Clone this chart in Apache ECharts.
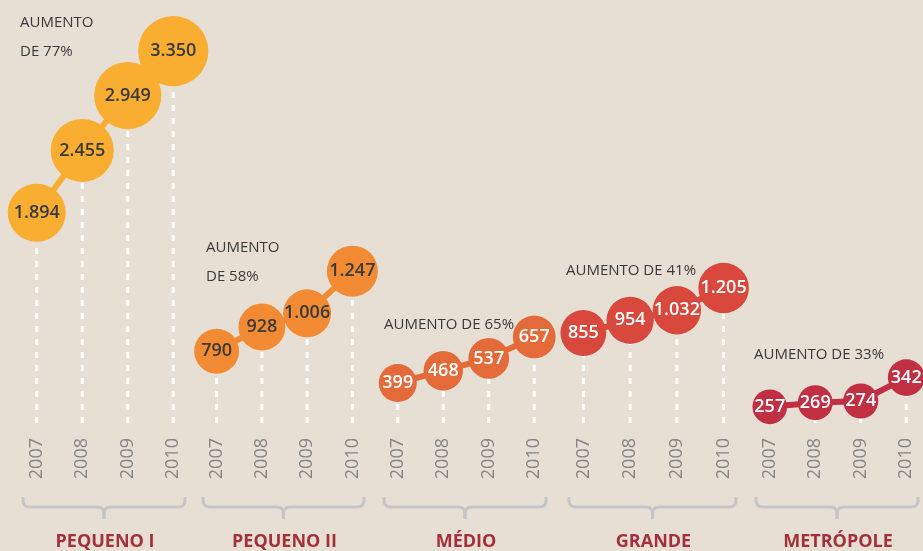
<!DOCTYPE html>
<html>
<head>
<meta charset="utf-8">
<script src="https://cdn.jsdelivr.net/npm/echarts@6/dist/echarts.min.js"></script>
<style>
  html, body { margin: 0; padding: 0; background: #e8dfd4; }
  #chart { width: 923px; height: 551px; }
</style>
</head>
<body>
<div id="chart"></div>
<script>
// dados
const years = ['2007', '2008', '2009', '2010'];
const groupNames = ['PEQUENO I', 'PEQUENO II', 'MÉDIO', 'GRANDE', 'METRÓPOLE'];
const pequenoI = [1894, 2455, 2949, 3350];
const pequenoII = [790, 928, 1006, 1247];
const medio = [399, 468, 537, 657];
const grande = [855, 954, 1032, 1205];
const metropole = [257, 269, 274, 342];

const groups = [pequenoI, pequenoII, medio, grande, metropole];

// estilo / layout
const FONT = "'Open Sans', sans-serif";
const COLORS = ['#f9ae31', '#f28b34', '#e56a3a', '#d9483c', '#c12f43'];
const LABEL_COLORS = ['#3a3a3a', '#3a3a3a', '#ffffff', '#ffffff', '#ffffff'];
const GRID_LEFT = [14, 194, 375, 560, 747];
const GRID_WIDTH = [182, 181, 182, 187, 182];
const AXIS_Y = 423;
// cada grupo tem sua própria escala vertical
const Y_RANGE = [[0, 3810], [380, 2795], [175, 2545], [155, 3445], [210, 1440]];
// [left, top, duas linhas?]
const NOTE_POS = [[20, 8, true], [206, 233, true], [384, 310, false], [566, 256, false], [754, 340, false]];

const fmt = v => String(v).replace(/\B(?=(\d{3})+(?!\d))/g, '.');
const bubbleSize = v => 21 + 0.85 * Math.sqrt(v);

// curva quadrática em pontos (para a chave)
function quad(p0, c, p1, n = 6) {
  const pts = [];
  for (let k = 1; k <= n; k++) {
    const t = k / n, u = 1 - t;
    pts.push([u * u * p0[0] + 2 * u * t * c[0] + t * t * p1[0], u * u * p0[1] + 2 * u * t * c[1] + t * t * p1[1]]);
  }
  return pts;
}

const chart = echarts.init(document.getElementById('chart'));

const grid = [], xAxis = [], yAxis = [], series = [], graphic = [];

groups.forEach((vals, i) => {
  grid.push({ left: GRID_LEFT[i], width: GRID_WIDTH[i], top: 0, height: AXIS_Y, outerBoundsMode: 'none', containLabel: false });
  xAxis.push({
    type: 'category',
    gridIndex: i,
    data: years,
    boundaryGap: true,
    axisLine: { show: false },
    axisTick: { show: false },
    splitLine: { show: false },
    axisLabel: { rotate: 90, margin: 15, color: '#858585', fontSize: 18, fontFamily: FONT },
    name: groupNames[i],
    nameLocation: 'middle',
    nameGap: 110,
    nameTextStyle: { color: '#a3313b', fontSize: 18, fontWeight: 'bold', fontFamily: FONT },
  });
  yAxis.push({ type: 'value', gridIndex: i, min: Y_RANGE[i][0], max: Y_RANGE[i][1], show: false });

  // linhas tracejadas até a base
  series.push({
    type: 'custom',
    xAxisIndex: i,
    yAxisIndex: i,
    z: 1,
    silent: true,
    data: vals.map((v, j) => [j, v]),
    renderItem(params, api) {
      const top = api.coord([api.value(0), api.value(1)]);
      const bottom = api.coord([api.value(0), Y_RANGE[i][0]]);
      return {
        type: 'line',
        shape: { x1: bottom[0], y1: bottom[1], x2: top[0], y2: top[1] },
        style: { stroke: '#ffffff', lineWidth: 3, lineDash: [6, 7] },
      };
    },
  });

  series.push({
    type: 'line',
    xAxisIndex: i,
    yAxisIndex: i,
    z: 3,
    data: vals,
    symbol: 'circle',
    symbolSize: bubbleSize,
    showAllSymbol: true,
    lineStyle: { color: COLORS[i], width: 6 },
    itemStyle: { color: COLORS[i] },
    emphasis: { disabled: true },
    label: {
      show: true,
      position: 'inside',
      color: LABEL_COLORS[i],
      fontSize: 18,
      fontWeight: 600,
      fontFamily: FONT,
      formatter: p => fmt(p.value),
    },
  });

  // texto "AUMENTO DE x%"
  const pct = Math.round((vals[vals.length - 1] / vals[0] - 1) * 100);
  const [nx, ny, twoLines] = NOTE_POS[i];
  graphic.push({
    type: 'text',
    x: nx,
    y: ny,
    style: {
      text: twoLines ? 'AUMENTO\nDE ' + pct + '%' : 'AUMENTO DE ' + pct + '%',
      fill: '#3a3a3a',
      font: '15px ' + FONT,
      lineHeight: 29,
    },
  });

  // chave
  const x0 = GRID_LEFT[i] + 9, x1 = GRID_LEFT[i] + GRID_WIDTH[i] - 11;
  const cx = (x0 + x1) / 2, yT = 497, yM = 507, yB = 519, r = 7;
  const left = [[x0, yT], [x0, yM - r], ...quad([x0, yM - r], [x0, yM], [x0 + r, yM]),
    [cx - r, yM], ...quad([cx - r, yM], [cx, yM], [cx, yM + r]), [cx, yB]];
  const right = [[x1, yT], [x1, yM - r], ...quad([x1, yM - r], [x1, yM], [x1 - r, yM]),
    [cx + r, yM], ...quad([cx + r, yM], [cx, yM], [cx, yM + r]), [cx, yB]];
  [left, right].forEach(points => graphic.push({
    type: 'polyline',
    shape: { points },
    style: { stroke: '#c3c5c6', lineWidth: 3, fill: null, lineJoin: 'round' },
  }));
});

chart.setOption({
  backgroundColor: '#e8dfd4',
  animation: false,
  grid,
  xAxis,
  yAxis,
  series,
  graphic,
});
</script>
</body>
</html>
